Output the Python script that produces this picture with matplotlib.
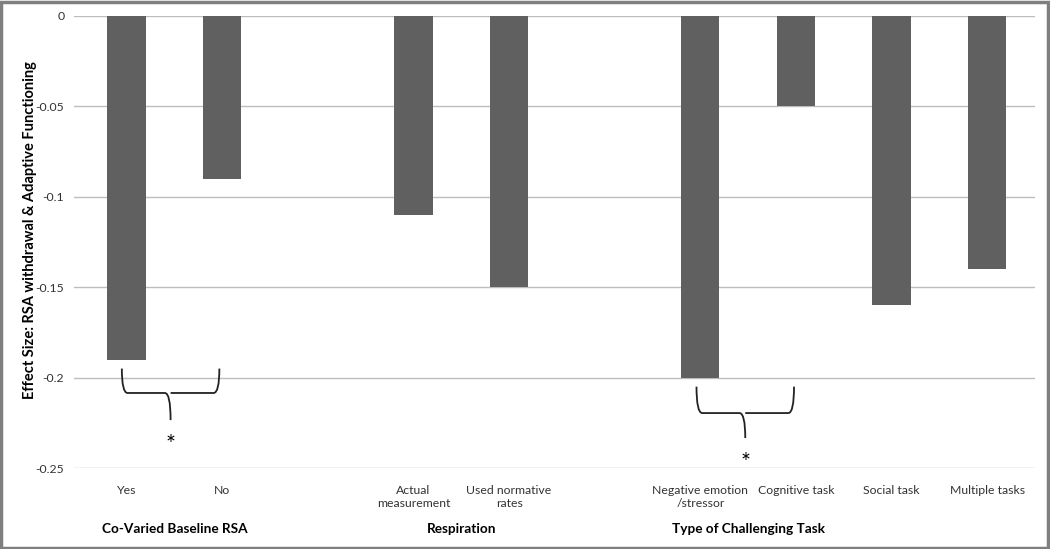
import matplotlib.pyplot as plt
from matplotlib.path import Path
from matplotlib.patches import PathPatch, Rectangle

# data
categories = ['Yes', 'No', '', 'Actual\nmeasurement', 'Used normative\nrates', '',
              'Negative emotion\n/stressor', 'Cognitive task', 'Social task', 'Multiple tasks']
effects = [-0.19, -0.09, 0, -0.11, -0.15, 0, -0.20, -0.05, -0.16, -0.14]
groups = ['Co-Varied Baseline RSA', 'Respiration', 'Type of Challenging Task']
group_first = [0, 3, 6]
yticks = [0, -0.05, -0.1, -0.15, -0.2, -0.25]
ytick_labels = ['0', '-0.05', '-0.1', '-0.15', '-0.2', '-0.25']

plt.rcParams['font.family'] = ['Lato', 'DejaVu Sans']

fig = plt.figure(figsize=(10.5, 5.49), dpi=100)
ax = fig.add_axes([0.0705, 0.1475, 0.9152, 0.8234])

x = list(range(len(categories)))
vals = [v if c else 0 for v, c in zip(effects, categories)]
ax.bar(x, vals, width=0.4, color='#606060', zorder=3)

ax.set_ylim(-0.25, 0)
ax.set_xlim(-0.55, 9.5)
ax.set_yticks(yticks)
ax.set_yticklabels(ytick_labels)
ax.set_xticks(x)
ax.set_xticklabels(categories, fontsize=8.8, color='#333333', linespacing=1.3, va='top')
ax.tick_params(axis='x', length=0, pad=12)
ax.tick_params(axis='y', length=0, pad=7, labelsize=8.8, labelcolor='#333333')
ax.grid(axis='y', color='#bdbdbd', linewidth=1, zorder=0)
for s in ax.spines.values():
    s.set_visible(False)

ax.set_ylabel('Effect Size: RSA withdrawal & Adaptive Functioning',
              fontsize=10.5, fontweight='bold', va='center')
ax.yaxis.set_label_coords(-0.046, 0.527)

# group labels under the categories
for g, i in zip(groups, group_first):
    ax.text(i + 0.5, -0.2838, g, ha='center', va='center', fontsize=9.8,
            fontweight='bold', clip_on=False)


def brace(x0, x1, ytop, ymid, ytip):
    xm = (x0 + x1) / 2
    verts = [(x0, ytop), (x0, ymid), (x0 + 0.06, ymid),
             (xm - 0.06, ymid), (xm, ymid), (xm, ytip),
             (xm, ymid), (xm + 0.06, ymid),
             (x1 - 0.06, ymid), (x1, ymid), (x1, ytop)]
    codes = [Path.MOVETO, Path.CURVE3, Path.CURVE3,
             Path.LINETO, Path.CURVE3, Path.CURVE3,
             Path.MOVETO, Path.CURVE3,
             Path.LINETO, Path.CURVE3, Path.CURVE3]
    ax.add_patch(PathPatch(Path(verts, codes), fill=False, lw=1.3,
                           edgecolor='#222222', clip_on=False, zorder=4))
    ax.text(xm, ytip - 0.0135, '*', ha='center', va='center', fontsize=17,
            clip_on=False)


brace(-0.05, 0.97, -0.195, -0.2085, -0.2235)
brace(5.96, 6.98, -0.205, -0.2196, -0.2334)

fig.add_artist(Rectangle((0.001, 0.002), 0.997, 0.995, transform=fig.transFigure,
                         fill=False, edgecolor='#7f7f7f', linewidth=2.5))

fig.savefig('out.png', dpi=100)
